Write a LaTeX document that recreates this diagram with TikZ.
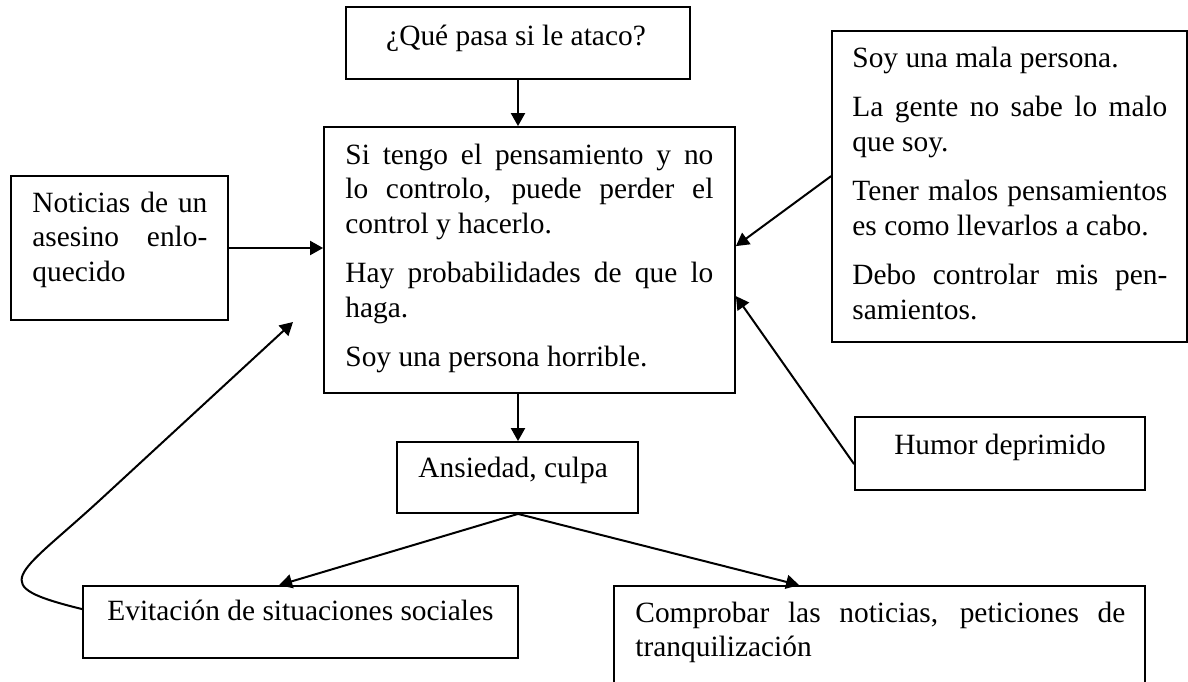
\documentclass[tikz,border=0pt]{standalone}
\usepackage{fontspec}
\setmainfont{Liberation Serif}
\usetikzlibrary{arrows.meta,calc,fit}
\newcommand\boxpar[2]{\parbox[t]{#1}{\setlength{\parskip}{7.5pt}\hyphenpenalty=10000 #2}}
\begin{document}
\begin{tikzpicture}[x=0.5pt,y=-0.5pt,
  boxst/.style={draw, line width=0.9pt, inner sep=0pt, rectangle},
  txt/.style={inner sep=0pt, font=\fontsize{14.7}{17.25}\selectfont},
  arr/.style={line width=1pt, -{Triangle[length=6.5pt,width=7pt]}}]
\useasboundingbox (0,0) rectangle (1188,681);
\clip (0,0) rectangle (1188,681);
% boxes
\node[boxst, fit={(346,7) (690,79)}] (q) {};
\node[boxst, fit={(324,127) (735,393)}] (m) {};
\node[boxst, fit={(11,176) (228,320)}] (n) {};
\node[boxst, fit={(832,31) (1187,342)}] (rb) {};
\node[boxst, fit={(855,417) (1145,490)}] (hu) {};
\node[boxst, fit={(397,442) (638,513)}] (an) {};
\node[boxst, fit={(83,586) (518,658)}] (ev) {};
\node[boxst, fit={(614,586) (1145,720)}] (co) {};
% texts
\node[txt, anchor=base] (qt) at (516,45) {¿Qué pasa si le ataco?};
\node[txt, anchor=base west] (mt) at (345,164) {\boxpar{184pt}{Si tengo el pensamiento y no\linebreak lo controlo, puede perder el\linebreak control y hacerlo.\par Hay probabilidades de que lo\linebreak haga.\par Soy una persona horrible.}};
\node[txt, anchor=base west] (nt) at (32,212) {\boxpar{87.5pt}{Noticias de un\linebreak asesino enlo-\linebreak quecido}};
\node[txt, anchor=base west] (rbt) at (852,67) {\boxpar{157.5pt}{Soy una mala persona.\par La gente no sabe lo malo\linebreak que soy.\par Tener malos pensamientos\linebreak es como llevarlos a cabo.\par Debo controlar mis pen-\linebreak samientos.}};
\node[txt, anchor=base] (hut) at (1000,454) {Humor deprimido};
\node[txt, anchor=base west] (ant) at (418,477) {Ansiedad, culpa};
\node[txt, anchor=base west] (evt) at (107,620) {Evitación de situaciones sociales};
\node[txt, anchor=base west] (cot) at (635,622) {\boxpar{245pt}{Comprobar las noticias, peticiones de\linebreak tranquilización}};
% connectors
\coordinate (loopend) at (293,322);
\draw[arr] (q.south -| 518,0) -- (m.north -| 518,0);
\draw[arr] (n.east) -- (n.east -| m.west);
\draw[arr] ($(rb.north west)+(0,146)$) -- ($(m.north east)+(0,120)$);
\draw[arr] ($(hu.north west)+(0,48)$) -- ($(m.north east)+(0,170)$);
\draw[arr] (m.south -| 518,0) -- (an.north -| 518,0);
\draw[arr] (an.south -| 518,0) -- ($(ev.north west)+(197,0)$);
\draw[arr] (an.south -| 518,0) -- ($(co.north west)+(186,0)$);
\draw[arr] ($(ev.north west)+(0,24)$) .. controls (-15,585) and (15,578) .. (100,500) -- (loopend);
\end{tikzpicture}
\end{document}
